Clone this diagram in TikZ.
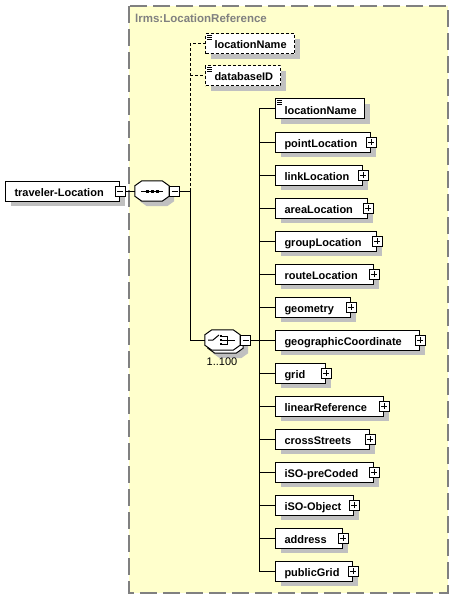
\documentclass[tikz,border=0pt]{standalone}
\usepackage{fontspec}
\setmainfont{Liberation Sans}
\usetikzlibrary{shadows}
\definecolor{bgyellow}{RGB}{255,255,204}
\definecolor{shadowgray}{RGB}{192,192,192}
\definecolor{framegray}{RGB}{128,128,128}
\tikzset{
  shadowed/.style={drop shadow={shadow xshift=5pt,shadow yshift=-5pt,fill=shadowgray,opacity=1}},
  elem/.style={draw=black, line width=1pt, fill=white, minimum height=20pt, inner xsep=9pt, inner ysep=0pt, text height=10pt, text depth=0pt, anchor=west, font=\fontsize{11}{13}\selectfont\bfseries, shadowed},
  optelem/.style={elem, dash pattern=on 3pt off 2pt},
  conn/.style={line width=1pt},
  optconn/.style={line width=1pt, dash pattern=on 3pt off 2pt},
  boxbtn/.style={draw=black, line width=1pt, fill=white, minimum size=10pt, inner sep=0pt},
  plusbtn/.style={boxbtn, path picture={\draw[line width=1pt] ([xshift=-3pt]path picture bounding box.center) -- ([xshift=3pt]path picture bounding box.center) ([yshift=-3pt]path picture bounding box.center) -- ([yshift=3pt]path picture bounding box.center);}},
  minusbtn/.style={boxbtn, path picture={\draw[line width=1pt] ([xshift=-3pt]path picture bounding box.center) -- ([xshift=3pt]path picture bounding box.center);}},
  compbox/.style={draw=none, minimum height=20pt, inner sep=0pt},
  octline/.style={draw=black, line width=1pt, fill=white},
  docicon/.style={line width=0.8pt},
}
\newcommand\drawoct[4][]{\draw[#1] ([shift={(#3+7,#4)}]#2.north west) -- ([shift={(#3-7,#4)}]#2.north east) -- ([shift={(#3,#4+5)}]#2.north east) -- ([shift={(#3,#4-5)}]#2.south east) -- ([shift={(#3-7,#4)}]#2.south east) -- ([shift={(#3+7,#4)}]#2.south west) -- ([shift={(#3,#4-5)}]#2.south west) -- ([shift={(#3,#4+5)}]#2.north west) -- cycle;}
\newcommand\docmark[1]{%
  \draw[docicon] ([shift={(2,1.5)}]#1.north west) -- ++(5,0);
  \draw[docicon] ([shift={(2,3.5)}]#1.north west) -- ++(5,0);
  \draw[docicon] ([shift={(2,5.5)}]#1.north west) -- ++(5,0);}
\begin{document}
\begin{tikzpicture}[x=1pt,y=-1pt]
\useasboundingbox (0,0) rectangle (454,599);
% container
\draw[fill=bgyellow, draw=framegray, line width=1.2pt, dash pattern=on 17pt off 6pt] (129,6) rectangle (448,593);
\node[anchor=west, inner sep=0pt, text=framegray, font=\fontsize{11.5}{13}\selectfont\bfseries] (title) at (135,18.5) {lrms:LocationReference};

% root element
\node[elem] (root) at (5,191) {\makebox[96pt][l]{traveler-Location}};
\node[minusbtn] (rootm) at (root.east) {};

% sequence compositor
\node[compbox, minimum width=34pt] (seq) at (152,191) {};
\drawoct[octline, shadowed]{seq}{0}{0}
\draw[line width=1pt] (141,191) -- (163,191);
\fill (145.5,189.5) rectangle (148.5,192.5);
\fill (150.5,189.5) rectangle (153.5,192.5);
\fill (155.5,189.5) rectangle (158.5,192.5);
\node[minusbtn, anchor=west] (seqm) at (seq.east) {};
\coordinate (sj) at (190,191);

% optional elements
\node[optelem] (optLN) at (205,44) {\makebox[71pt][l]{locationName}};
\docmark{optLN}
\node[optelem] (optDB) at (205,76) {\makebox[57pt][l]{databaseID}};
\docmark{optDB}

% choice compositor
\node[compbox, minimum width=35pt] (choice) at (222.5,340) {};
\drawoct[octline, shadowed]{choice}{3}{3}
\drawoct[octline]{choice}{0}{0}
\draw[line width=1pt] (208,340) -- (213,340) -- (219,335);
\fill (219.8,334.8) rectangle (222.2,337.2);
\fill (219.8,338.8) rectangle (222.2,341.2);
\fill (219.8,342.8) rectangle (222.2,345.2);
\draw[line width=1pt] (222,336) -- (227,336) -- (227,344) -- (222,344);
\draw[line width=1pt] (222,340) -- (235,340);
\node[minusbtn, anchor=west] (choicem) at (choice.east) {};
\node[inner sep=0pt, font=\fontsize{11}{13}\selectfont] (occ) at (222,362) {1..100};
\coordinate (cj) at (259,340);

% children
\node[elem] (c1) at (275,109) {\makebox[71pt][l]{locationName}};
\docmark{c1}
\node[elem] (c2) at (275,142) {\makebox[77pt][l]{pointLocation}};
\node[elem] (c3) at (275,175) {\makebox[69pt][l]{linkLocation}};
\node[elem] (c4) at (275,208) {\makebox[74pt][l]{areaLocation}};
\node[elem] (c5) at (275,241) {\makebox[83pt][l]{groupLocation}};
\node[elem] (c6) at (275,274) {\makebox[80pt][l]{routeLocation}};
\node[elem] (c7) at (275,307) {\makebox[57pt][l]{geometry}};
\node[elem] (c8) at (275,340) {\makebox[126pt][l]{geographicCoordinate}};
\node[elem] (c9) at (275,373) {\makebox[32pt][l]{grid}};
\node[elem] (c10) at (275,406) {\makebox[90pt][l]{linearReference}};
\node[elem] (c11) at (275,439) {\makebox[76pt][l]{crossStreets}};
\node[elem] (c12) at (275,472) {\makebox[80pt][l]{iSO-preCoded}};
\node[elem] (c13) at (275,505) {\makebox[60pt][l]{iSO-Object}};
\node[elem] (c14) at (275,538) {\makebox[49pt][l]{address}};
\node[elem] (c15) at (275,571) {\makebox[59pt][l]{publicGrid}};
\foreach \c in {c2,c3,c4,c5,c6,c7,c8,c9,c10,c11,c12,c13,c14,c15}
  \node[plusbtn] (\c p) at (\c.east) {};

% connectors
\draw[conn] (rootm.east) -- (seq.west);
\draw[conn] (seqm.east) -- (sj);
\draw[optconn] (sj) |- (optLN.west);
\draw[optconn] (sj) |- (optDB.west);
\draw[conn] (sj) |- (choice.west);
\draw[conn] (choicem.east) -- (cj);
\foreach \c in {c1,c2,c3,c4,c5,c6,c7,c8,c9,c10,c11,c12,c13,c14,c15}
  \draw[conn] (cj) |- (\c.west);
\end{tikzpicture}
\end{document}
